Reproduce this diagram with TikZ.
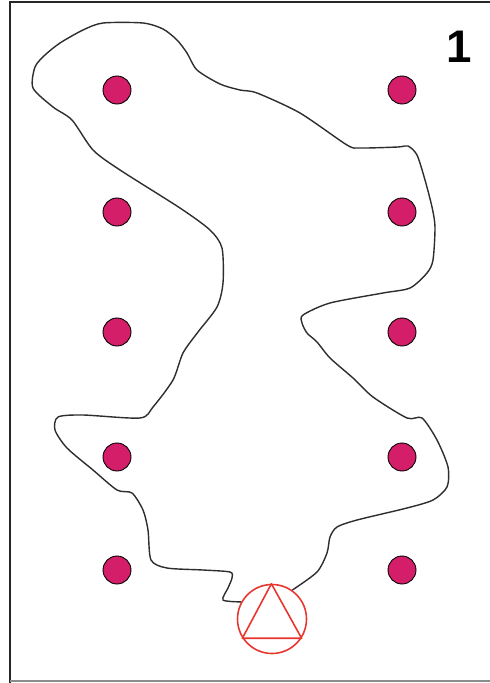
\documentclass[tikz,border=0pt]{standalone}
\usepackage{fontspec}
\setsansfont{Liberation Sans}
\usepackage{tikz}
\usetikzlibrary{calc}
\definecolor{stakec}{HTML}{D41E6A}
\definecolor{trapc}{HTML}{E8352E}
\definecolor{linec}{HTML}{2E2E2E}
\tikzset{
  stake/.style={circle, draw=black, fill=stakec, line width=0.5pt,
                minimum size=0.56cm, inner sep=0pt},
  trapring/.style={circle, draw=trapc, line width=0.9pt,
                   minimum size=1.38cm, inner sep=0pt},
  border/.style={line width=1.4pt, black!85},
  route/.style={linec, line width=0.8pt}
}

\begin{document}
\begin{tikzpicture}[x=0.02cm, y=-0.02cm]
  \useasboundingbox (0,0) rectangle (490,683);
  % frame
  \draw[border] (10,683) -- (10,2) -- (490,2);
  \draw[line width=1pt, black!45] (10,681) -- (490,681);
  % label
  \node[font=\sffamily\bfseries\fontsize{26}{26}\selectfont] (num) at (459,47) {1};
  % stakes
  \foreach \r/\y in {1/90, 2/212, 3/332, 4/457, 5/570} {
    \node[stake] (l\r) at (117,\y) {};
    \node[stake] (r\r) at (402,\y) {};
  }
  % trap
  \node[trapring] (trap) at (272,619) {};
  \draw[trapc, line width=0.9pt, line join=round]
    (trap.91) -- (trap.213) -- (trap.327) -- cycle;
  % route
  \draw[route] plot[smooth, tension=0.45] coordinates {
    (trap.151) (223,600) (228,588) (232,578) (230,572) (203,570) (167,568)
    (151,560) (148,530) (143,510) (132,493) (117,490) (93,470) (67,448)
    (55,430) (58,417) (83,415) (140,418) (153,407) (173,380) (183,353)
    (198,332) (217,307) (223,283) (222,248) (210,230) (180,208) (120,170)
    (93,150) (72,120) (53,107) (33,88) (35,67) (45,55) (60,43) (83,30)
    (103,23) (143,23) (163,29) (177,40) (187,53) (197,70) (220,84) (240,90)
    (257,93) (300,113) (347,145) (360,148) (398,147) (408,146) (417,155)
    (425,180) (432,207) (435,227) (433,260) (427,273) (410,288) (383,293)
    (330,303) (303,315) (302,323) (307,333) (317,342) (330,358) (353,378)
    (373,397) (407,418) (422,418) (437,440) (448,467) (447,487) (433,500)
    (407,508) (357,520) (337,527) (330,537) (327,553) (317,572) (trap.55)
  };
\end{tikzpicture}
\end{document}
